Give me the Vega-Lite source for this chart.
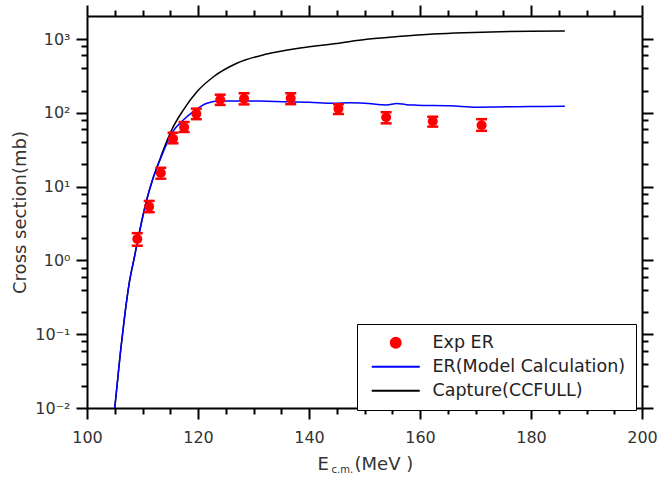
{
  "$schema": "https://vega.github.io/schema/vega-lite/v6.json",
  "width": 555,
  "height": 392,
  "autosize": {"type": "none"},
  "padding": {"left": 87, "top": 16, "right": 16, "bottom": 72},
  "background": "white",
  "config": {
    "view": {"stroke": null},
    "axis": {
      "grid": false,
      "domainColor": "black",
      "domainWidth": 2,
      "tickColor": "black",
      "tickWidth": 2,
      "tickSize": 11,
      "labelFlush": false,
      "labelFont": "DejaVu Sans",
      "labelFontSize": 16,
      "labelColor": "#333",
      "titleFont": "DejaVu Sans",
      "titleFontWeight": "normal",
      "titleColor": "#333"
    },
    "legend": {
      "title": null,
      "orient": "none",
      "legendX": 270,
      "legendY": 308,
      "strokeColor": "black",
      "fillColor": "white",
      "padding": 10,
      "symbolOffset": 20,
      "labelOffset": 28,
      "rowPadding": 5,
      "symbolSize": 100,
      "labelLimit": 400,
      "labelFont": "DejaVu Sans",
      "labelFontSize": 17.5,
      "labelColor": "#222"
    }
  },
  "datasets": {
    "exp": [
      {"E": 109.06, "y": 1.95, "lo": 1.58, "hi": 2.34},
      {"E": 111.2, "y": 5.35, "lo": 4.5, "hi": 6.4},
      {"E": 113.3, "y": 15.3, "lo": 12.8, "hi": 18},
      {"E": 115.5, "y": 44.6, "lo": 38.6, "hi": 53.7},
      {"E": 117.5, "y": 63.5, "lo": 55, "hi": 75},
      {"E": 119.7, "y": 97, "lo": 82, "hi": 114},
      {"E": 124.0, "y": 150, "lo": 128, "hi": 176},
      {"E": 128.3, "y": 155, "lo": 130, "hi": 184},
      {"E": 136.7, "y": 157, "lo": 131, "hi": 184},
      {"E": 145.3, "y": 114, "lo": 96, "hi": 131},
      {"E": 153.9, "y": 87, "lo": 72, "hi": 102},
      {"E": 162.3, "y": 77, "lo": 65, "hi": 88.5},
      {"E": 171.1, "y": 68, "lo": 57, "hi": 82}
    ],
    "curves": [
      {"s": "Capture(CCFULL)", "E": 105.0, "y": 0.01},
      {"s": "Capture(CCFULL)", "E": 105.5, "y": 0.0234},
      {"s": "Capture(CCFULL)", "E": 106.07, "y": 0.061},
      {"s": "Capture(CCFULL)", "E": 106.8, "y": 0.18},
      {"s": "Capture(CCFULL)", "E": 107.6, "y": 0.49},
      {"s": "Capture(CCFULL)", "E": 108.5, "y": 1.07},
      {"s": "Capture(CCFULL)", "E": 109.4, "y": 2.33},
      {"s": "Capture(CCFULL)", "E": 110.75, "y": 6.58},
      {"s": "Capture(CCFULL)", "E": 111.8, "y": 12.3},
      {"s": "Capture(CCFULL)", "E": 113.0, "y": 22},
      {"s": "Capture(CCFULL)", "E": 113.75, "y": 31.3},
      {"s": "Capture(CCFULL)", "E": 115.25, "y": 58.5},
      {"s": "Capture(CCFULL)", "E": 117.35, "y": 109},
      {"s": "Capture(CCFULL)", "E": 119.8, "y": 193},
      {"s": "Capture(CCFULL)", "E": 122.8, "y": 308},
      {"s": "Capture(CCFULL)", "E": 127.0, "y": 469},
      {"s": "Capture(CCFULL)", "E": 132.4, "y": 625},
      {"s": "Capture(CCFULL)", "E": 138.4, "y": 755},
      {"s": "Capture(CCFULL)", "E": 145.0, "y": 870},
      {"s": "Capture(CCFULL)", "E": 150.4, "y": 990},
      {"s": "Capture(CCFULL)", "E": 156.0, "y": 1080},
      {"s": "Capture(CCFULL)", "E": 162.4, "y": 1170},
      {"s": "Capture(CCFULL)", "E": 168.0, "y": 1220},
      {"s": "Capture(CCFULL)", "E": 174.4, "y": 1256},
      {"s": "Capture(CCFULL)", "E": 180.0, "y": 1275},
      {"s": "Capture(CCFULL)", "E": 186.1, "y": 1283},
      {"s": "ER(Model Calculation)", "E": 105.0, "y": 0.01},
      {"s": "ER(Model Calculation)", "E": 105.5, "y": 0.0234},
      {"s": "ER(Model Calculation)", "E": 106.07, "y": 0.061},
      {"s": "ER(Model Calculation)", "E": 106.8, "y": 0.18},
      {"s": "ER(Model Calculation)", "E": 107.6, "y": 0.49},
      {"s": "ER(Model Calculation)", "E": 108.5, "y": 1.07},
      {"s": "ER(Model Calculation)", "E": 109.4, "y": 2.33},
      {"s": "ER(Model Calculation)", "E": 110.75, "y": 6.58},
      {"s": "ER(Model Calculation)", "E": 111.8, "y": 12.3},
      {"s": "ER(Model Calculation)", "E": 113.0, "y": 21.5},
      {"s": "ER(Model Calculation)", "E": 113.75, "y": 29.5},
      {"s": "ER(Model Calculation)", "E": 115.25, "y": 52.7},
      {"s": "ER(Model Calculation)", "E": 117.35, "y": 79.8},
      {"s": "ER(Model Calculation)", "E": 119.15, "y": 103.5},
      {"s": "ER(Model Calculation)", "E": 121.6, "y": 134.6},
      {"s": "ER(Model Calculation)", "E": 124.0, "y": 144.5},
      {"s": "ER(Model Calculation)", "E": 127.6, "y": 145},
      {"s": "ER(Model Calculation)", "E": 131.0, "y": 144},
      {"s": "ER(Model Calculation)", "E": 136.6, "y": 141},
      {"s": "ER(Model Calculation)", "E": 140.0, "y": 139},
      {"s": "ER(Model Calculation)", "E": 144.4, "y": 135},
      {"s": "ER(Model Calculation)", "E": 147.4, "y": 137},
      {"s": "ER(Model Calculation)", "E": 150.0, "y": 135},
      {"s": "ER(Model Calculation)", "E": 154.0, "y": 128},
      {"s": "ER(Model Calculation)", "E": 155.8, "y": 134},
      {"s": "ER(Model Calculation)", "E": 157.5, "y": 129},
      {"s": "ER(Model Calculation)", "E": 159.4, "y": 127},
      {"s": "ER(Model Calculation)", "E": 165.4, "y": 125},
      {"s": "ER(Model Calculation)", "E": 170.2, "y": 119},
      {"s": "ER(Model Calculation)", "E": 174.0, "y": 120},
      {"s": "ER(Model Calculation)", "E": 177.4, "y": 121},
      {"s": "ER(Model Calculation)", "E": 182.0, "y": 122},
      {"s": "ER(Model Calculation)", "E": 186.1, "y": 123}
    ]
  },
  "layer": [
    {
      "data": {"name": "curves"},
      "transform": [{"filter": "datum.s === 'Capture(CCFULL)'"}],
      "mark": {"type": "line", "strokeWidth": 1.5, "interpolate": "monotone"},
      "encoding": {
        "x": {"field": "E", "type": "quantitative", "scale": {"domain": [100, 200], "nice": false, "zero": false},
          "axis": {"orient": "bottom", "title": "(MeV )", "domain": false, "ticks": false, "labels": false, "titleX": 267, "titleY": 61, "titleAlign": "left", "titleBaseline": "alphabetic", "titleFontSize": 18}},
        "y": {"field": "y", "type": "quantitative", "scale": {"type": "log", "domain": [0.01, 2050], "nice": false}, "axis": null},
        "color": {"field": "s", "type": "nominal",
          "scale": {"domain": ["Exp ER", "ER(Model Calculation)", "Capture(CCFULL)"], "range": ["#ff0000", "#0000ff", "#000000"]},
          "legend": {
            "title": null,
            "encode": {
              "symbols": {
                "update": {
                  "shape": {"signal": "datum.value === 'Exp ER' ? 'circle' : 'M-4.8,0H4.8'"},
                  "fill": {"signal": "datum.value === 'Exp ER' ? '#ff0000' : 'transparent'"},
                  "stroke": {"signal": "datum.value === 'Exp ER' ? 'transparent' : (datum.value === 'Capture(CCFULL)' ? '#000000' : '#0000ff')"},
                  "strokeWidth": {"value": 2},
                  "opacity": {"value": 1}
                }
              }
            }
          }}
      }
    },
    {
      "data": {"name": "curves"},
      "transform": [{"filter": "datum.s === 'ER(Model Calculation)'"}],
      "mark": {"type": "line", "strokeWidth": 1.5, "interpolate": "monotone"},
      "encoding": {
        "x": {"field": "E", "type": "quantitative",
          "axis": {"orient": "top", "title": null, "labels": false,
            "values": [100,105,110,115,120,125,130,135,140,145,150,155,160,165,170,175,180,185,190,195,200],
            "tickSize": {"condition": {"test": "datum.value % 20 === 0", "value": 11}, "value": 6}}},
        "y": {"field": "y", "type": "quantitative",
          "axis": {"orient": "right", "title": null, "labels": false,
            "values": [0.01,0.02,0.04,0.06,0.08,0.1,0.2,0.4,0.6,0.8,1,2,4,6,8,10,20,40,60,80,100,200,400,600,800,1000],
            "tickSize": {"condition": {"test": "indexof([0.01,0.1,1,10,100,1000], datum.value) >= 0", "value": 11}, "value": 6}}},
        "color": {"field": "s", "type": "nominal"}
      }
    },
    {
      "data": {"name": "exp"},
      "mark": {"type": "errorbar", "color": "#ff0000", "thickness": 2, "opacity": 1, "ticks": {"size": 11, "thickness": 2.5, "color": "#ff0000", "opacity": 1}, "rule": {"strokeWidth": 2, "opacity": 1}},
      "encoding": {
        "x": {"field": "E", "type": "quantitative",
          "axis": {"orient": "bottom", "title": "c.m.", "domain": false, "ticks": false, "labels": false, "titleX": 244, "titleY": 64, "titleAlign": "left", "titleBaseline": "alphabetic", "titleFontSize": 10}},
        "y": {"field": "lo", "type": "quantitative", "axis": null},
        "y2": {"field": "hi"}
      }
    },
    {
      "data": {"name": "exp"},
      "mark": {"type": "point", "filled": true, "size": 100, "shape": "circle", "opacity": 1},
      "encoding": {
        "x": {"field": "E", "type": "quantitative",
          "axis": {"orient": "bottom", "title": "E",
            "values": [100,105,110,115,120,125,130,135,140,145,150,155,160,165,170,175,180,185,190,195,200],
            "labelExpr": "datum.value % 20 === 0 ? datum.label : ''",
            "labelPadding": 10,
            "tickSize": {"condition": {"test": "datum.value % 20 === 0", "value": 11}, "value": 6},
            "titleX": 230, "titleY": 61, "titleAlign": "left", "titleBaseline": "alphabetic", "titleFontSize": 18}},
        "y": {"field": "y", "type": "quantitative",
          "axis": {"orient": "left", "title": "Cross section(mb)",
            "values": [0.01,0.02,0.04,0.06,0.08,0.1,0.2,0.4,0.6,0.8,1,2,4,6,8,10,20,40,60,80,100,200,400,600,800,1000],
            "labelExpr": "datum.value == 1000 ? '10³' : datum.value == 100 ? '10²' : datum.value == 10 ? '10¹' : datum.value == 1 ? '10⁰' : datum.value == 0.1 ? '10⁻¹' : datum.value == 0.01 ? '10⁻²' : ''",
            "labelPadding": 6,
            "tickSize": {"condition": {"test": "indexof([0.01,0.1,1,10,100,1000], datum.value) >= 0", "value": 11}, "value": 6},
            "titleX": -67, "titleY": 196, "titleAngle": 270, "titleAlign": "center", "titleBaseline": "middle", "titleFontSize": 18}},
        "color": {"datum": "Exp ER", "type": "nominal",
          "legend": {
            "title": null,
            "encode": {
              "symbols": {
                "update": {
                  "shape": {"signal": "datum.value === 'Exp ER' ? 'circle' : 'M-4.8,0H4.8'"},
                  "fill": {"signal": "datum.value === 'Exp ER' ? '#ff0000' : 'transparent'"},
                  "stroke": {"signal": "datum.value === 'Exp ER' ? 'transparent' : (datum.value === 'Capture(CCFULL)' ? '#000000' : '#0000ff')"},
                  "strokeWidth": {"value": 2},
                  "opacity": {"value": 1}
                }
              }
            }
          }}
      }
    }
  ],
  "resolve": {"axis": {"x": "independent", "y": "independent"}}
}
